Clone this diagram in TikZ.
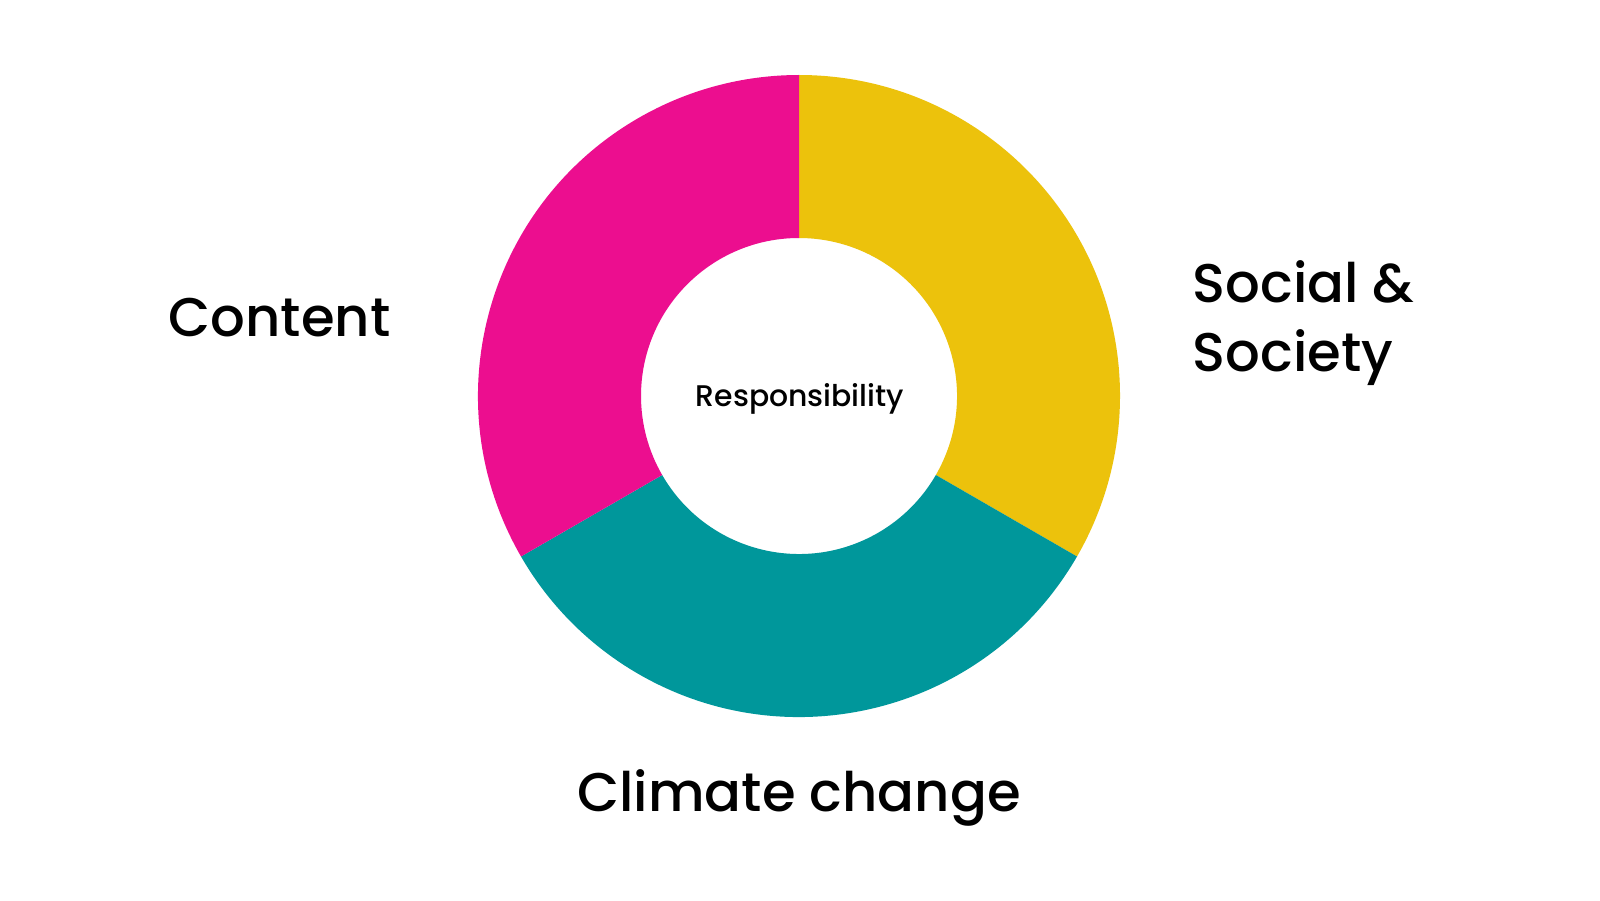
\documentclass[tikz,border=0pt]{standalone}
\usepackage{fontspec}
\setmainfont{Poppins Medium}
\definecolor{cmag}{HTML}{EC0E8F}
\definecolor{cyel}{HTML}{ECC20C}
\definecolor{cteal}{HTML}{00979B}
\begin{document}
\begin{tikzpicture}[
  seg/.style={draw=none},
  big/.style={font=\fontsize{15.5}{18}\selectfont, inner sep=0pt},
  small/.style={font=\fontsize{8.5}{10}\selectfont, inner sep=0pt}]
\useasboundingbox (0,0) rectangle (16,9);
\fill[white] (0,0) rectangle (16,9);
\coordinate (c) at (7.99,5.04);
\def\Ro{3.21}
\def\Ri{1.58}
\fill[cyel] ([shift={(90:\Ro)}]c) arc[start angle=90,end angle=-30,radius=\Ro] -- ([shift={(-30:\Ri)}]c) arc[start angle=-30,end angle=90,radius=\Ri] -- cycle;
\fill[cteal] ([shift={(-30:\Ro)}]c) arc[start angle=-30,end angle=-150,radius=\Ro] -- ([shift={(-150:\Ri)}]c) arc[start angle=-150,end angle=-30,radius=\Ri] -- cycle;
\fill[cmag] ([shift={(210:\Ro)}]c) arc[start angle=210,end angle=90,radius=\Ro] -- ([shift={(90:\Ri)}]c) arc[start angle=90,end angle=210,radius=\Ri] -- cycle;
\node[small, anchor=base] (resp) at (8.00,4.94) {Responsibility};
\node[big, anchor=base west] (content) at (1.68,5.64) {Content};
\node[big, anchor=base west] (social) at (11.92,5.98) {Social \&};
\node[big, anchor=base west] (society) at (11.92,5.29) {Society};
\node[big, anchor=base] (climate) at (7.99,0.89) {Climate change};
\end{tikzpicture}
\end{document}
